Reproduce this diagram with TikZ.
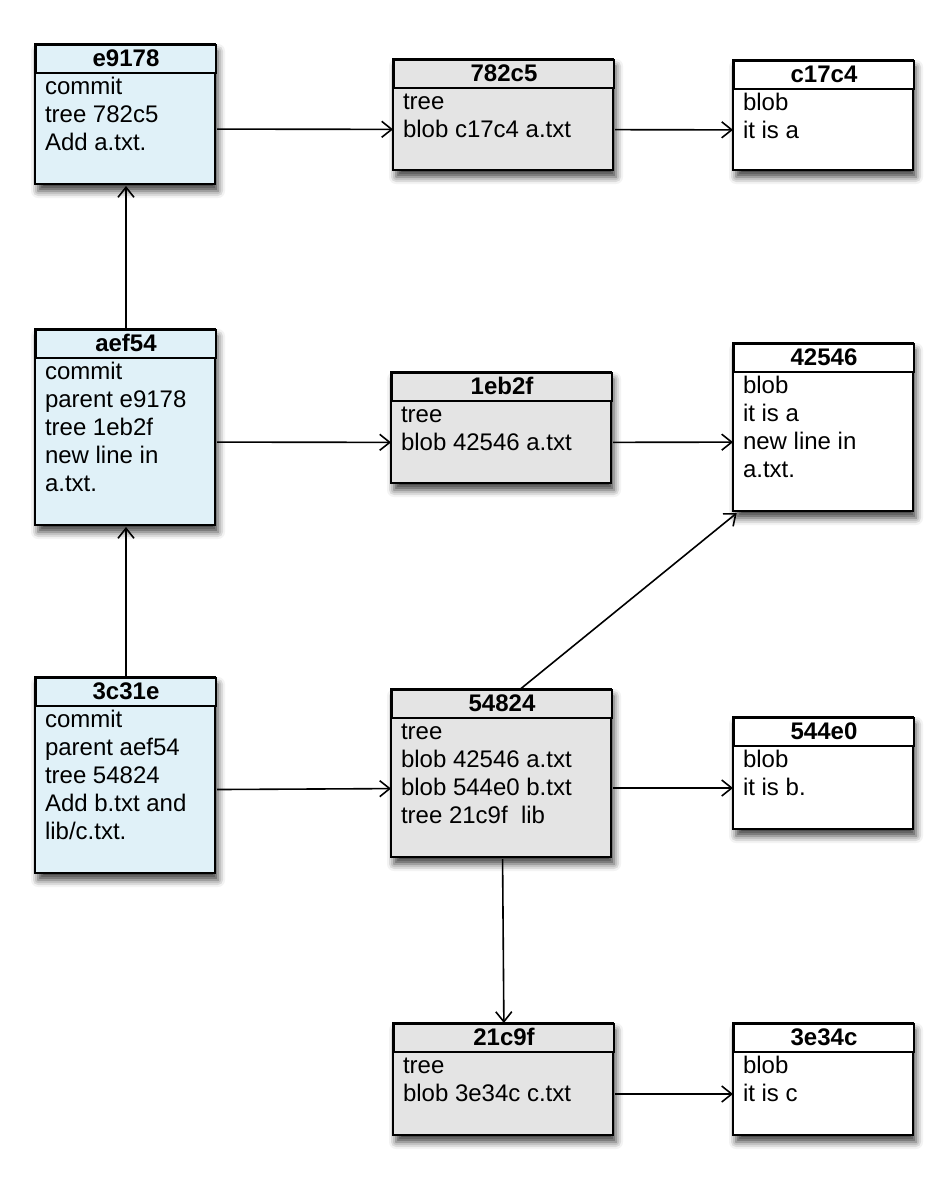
\documentclass[tikz,border=0pt]{standalone}
\usepackage{fontspec}
\setmainfont{Liberation Sans}
\usetikzlibrary{arrows.meta,shadows.blur}
\definecolor{commitblue}{RGB}{224,241,248}
\definecolor{treegray}{RGB}{228,228,228}
\tikzset{
  boxframe/.style={draw=black, line width=2pt,
    blur shadow={shadow xshift=3pt, shadow yshift=-7pt, shadow blur radius=7pt, shadow opacity=75}},
  hdr/.style={draw=black, line width=2pt, rectangle, inner sep=0pt, outer sep=1pt,
    minimum height=28pt, text height=18pt, text depth=4pt,
    font=\fontsize{24}{28}\selectfont\bfseries},
  bdy/.style={rectangle, inner sep=0pt, outer sep=1pt},
  link/.style={line width=1.6pt, -{Straight Barb[length=10pt,width=16pt,line width=1.6pt]}}
}
% #1 name, #2 x, #3 y, #4 width, #5 total height, #6 fill, #7 title, #8 body
\newcommand\gitbox[8]{%
  \draw[boxframe, fill=#6] (#2,#3) rectangle ++(#4,#5);
  \node[hdr, fill=#6, minimum width=#4pt, anchor=north west] (#1h) at (#2,#3) {#7};
  \node[bdy, anchor=north west] (#1) at (#2,#3+28) {%
    \parbox[t][\dimexpr#5pt-28pt\relax][t]{#4pt}{%
      \fontsize{24}{28}\selectfont\raggedright\leftskip=9pt\relax
      \rule{0pt}{21pt}#8}};
}
\begin{document}
\begin{tikzpicture}[x=1pt,y=-1pt]
\useasboundingbox (0,0) rectangle (952,1178);
\gitbox{e9178}{35}{44}{180}{140}{commitblue}{e9178}{commit\\tree 782c5\\Add a.txt.}
\gitbox{782c5}{393}{59}{220}{111}{treegray}{782c5}{tree\\blob c17c4 a.txt}
\gitbox{c17c4}{733}{60}{180}{110}{white}{c17c4}{blob\\it is a}
\gitbox{aef54}{35}{329}{180}{196}{commitblue}{aef54}{commit\\parent e9178\\tree 1eb2f\\new line in\\a.txt.}
\gitbox{1eb2f}{391}{372}{220}{111}{treegray}{1eb2f}{tree\\blob 42546 a.txt}
\gitbox{42546}{733}{343}{180}{168}{white}{42546}{blob\\it is a\\new line in\\a.txt.}
\gitbox{3c31e}{35}{677}{180}{196}{commitblue}{3c31e}{commit\\parent aef54\\tree 54824\\Add b.txt and\\lib/c.txt.}
\gitbox{54824}{391}{689}{220}{168}{treegray}{54824}{tree\\blob 42546 a.txt\\blob 544e0 b.txt\\tree 21c9f~~lib}
\gitbox{544e0}{733}{717}{180}{112}{white}{544e0}{blob\\it is b.}
\gitbox{21c9f}{393}{1023}{220}{112}{treegray}{21c9f}{tree\\blob 3e34c c.txt}
\gitbox{3e34c}{733}{1023}{180}{112}{white}{3e34c}{blob\\it is c}

\draw[link] (e9178) -- (782c5);
\draw[link] (782c5) -- (c17c4);
\draw[link] (aef54h) -- (e9178);
\draw[link] (aef54) -- (1eb2f);
\draw[link] (1eb2f) -- (42546);
\draw[link] (3c31eh) -- (aef54);
\draw[link] (3c31e) -- (54824);
\draw[link] (54824h) -- (42546);
\draw[link] (54824) -- (544e0);
\draw[link] (54824) -- (21c9fh);
\draw[link] (21c9f) -- (3e34c);
\end{tikzpicture}
\end{document}
